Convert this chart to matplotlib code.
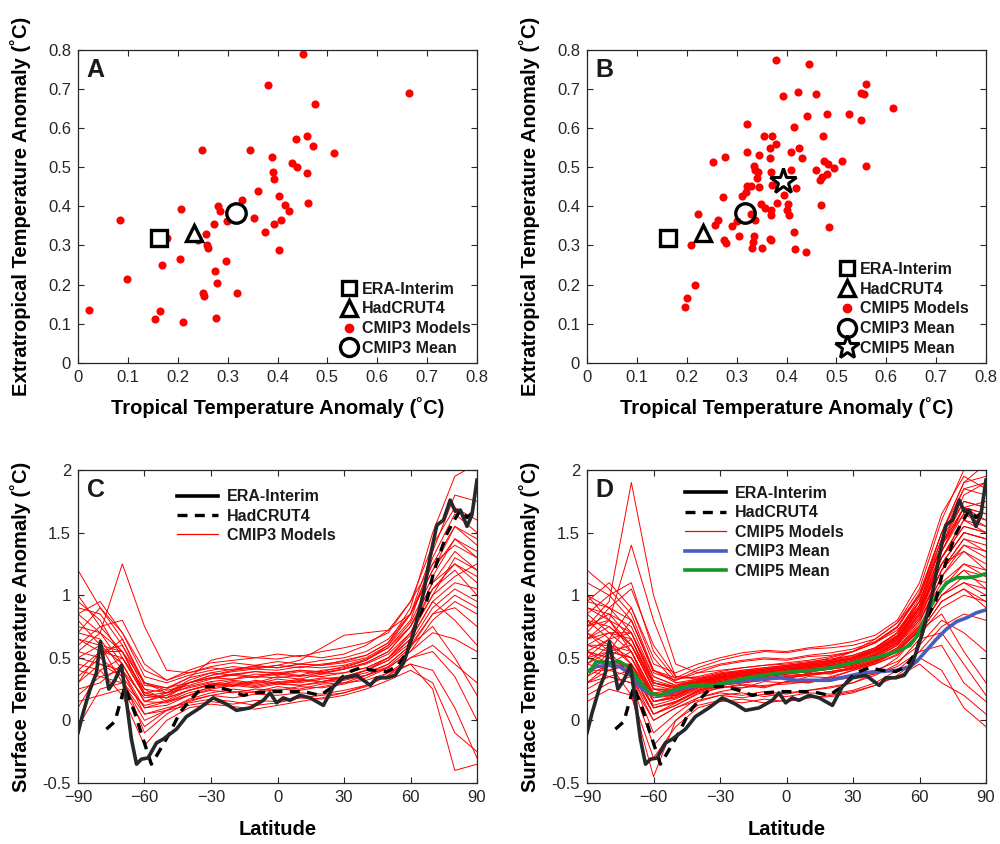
import numpy as np
import matplotlib.pyplot as plt
from matplotlib.lines import Line2D

plt.rcParams['font.family'] = ['Liberation Sans', 'DejaVu Sans']
plt.rcParams['text.color'] = '#1a1a1a'
plt.rcParams['axes.edgecolor'] = '#262626'
plt.rcParams['xtick.color'] = '#262626'
plt.rcParams['ytick.color'] = '#262626'

# ---------------- panel A / B : tropical vs extratropical anomaly ----------------
cmip3_trop = [0.452, 0.380, 0.663, 0.476, 0.438, 0.459, 0.472, 0.249, 0.344, 0.513,
              0.389, 0.430, 0.440, 0.391, 0.460, 0.392, 0.361, 0.404, 0.329, 0.461,
              0.416, 0.280, 0.207, 0.285, 0.424, 0.085, 0.353, 0.299, 0.407, 0.272,
              0.393, 0.375, 0.256, 0.179, 0.240, 0.258, 0.260, 0.404, 0.204, 0.296,
              0.168, 0.274, 0.098, 0.278, 0.250, 0.252, 0.319, 0.023, 0.165, 0.155,
              0.210, 0.276]
cmip3_extra = [0.790, 0.709, 0.689, 0.662, 0.573, 0.580, 0.555, 0.545, 0.545, 0.536,
               0.526, 0.511, 0.500, 0.489, 0.485, 0.471, 0.440, 0.426, 0.416, 0.409,
               0.403, 0.402, 0.394, 0.388, 0.387, 0.366, 0.371, 0.362, 0.364, 0.356,
               0.356, 0.335, 0.329, 0.318, 0.313, 0.300, 0.293, 0.288, 0.265, 0.260,
               0.249, 0.234, 0.215, 0.203, 0.179, 0.170, 0.179, 0.135, 0.132, 0.113,
               0.105, 0.115]

cmip5_trop = [0.379, 0.446, 0.559, 0.423, 0.392, 0.459, 0.550, 0.556, 0.614, 0.481,
              0.526, 0.442, 0.550, 0.320, 0.415, 0.354, 0.371, 0.474, 0.378, 0.366,
              0.426, 0.321, 0.409, 0.344, 0.276, 0.431, 0.366, 0.252, 0.476, 0.484,
              0.512, 0.559, 0.496, 0.334, 0.336, 0.369, 0.410, 0.460, 0.342, 0.481,
              0.340, 0.472, 0.468, 0.320, 0.344, 0.328, 0.371, 0.419, 0.318, 0.394,
              0.272, 0.311, 0.381, 0.348, 0.404, 0.469, 0.357, 0.369, 0.400, 0.222,
              0.328, 0.369, 0.405, 0.263, 0.336, 0.300, 0.256, 0.291, 0.485, 0.415,
              0.304, 0.334, 0.367, 0.275, 0.278, 0.369, 0.332, 0.209, 0.330, 0.351,
              0.418, 0.439, 0.216, 0.201, 0.197]
cmip5_extra = [0.774, 0.763, 0.712, 0.692, 0.683, 0.687, 0.689, 0.688, 0.651, 0.636,
               0.635, 0.630, 0.620, 0.611, 0.603, 0.580, 0.579, 0.579, 0.559, 0.549,
               0.549, 0.540, 0.538, 0.531, 0.526, 0.524, 0.523, 0.514, 0.517, 0.509,
               0.517, 0.502, 0.499, 0.504, 0.494, 0.489, 0.492, 0.492, 0.487, 0.483,
               0.472, 0.475, 0.468, 0.451, 0.450, 0.451, 0.454, 0.448, 0.436, 0.428,
               0.423, 0.426, 0.409, 0.405, 0.406, 0.403, 0.396, 0.391, 0.391, 0.380,
               0.380, 0.377, 0.379, 0.366, 0.365, 0.363, 0.352, 0.351, 0.347, 0.335,
               0.324, 0.324, 0.317, 0.315, 0.307, 0.314, 0.309, 0.301, 0.293, 0.294,
               0.291, 0.284, 0.199, 0.167, 0.143]

era_pt = (0.163, 0.319)
had_pt = (0.232, 0.333)
cmip3_mean_pt = (0.316, 0.384)
cmip5_mean_pt = (0.392, 0.465)

# ---------------- panel C / D : zonal-mean anomaly vs latitude ----------------
era_lat = [-90, -87.7, -84.7, -81.7, -79.9, -78.7, -76.1, -73.4, -70.4, -68.2, -65.9,
           -63.6, -61.4, -58.4, -54.6, -51.6, -45.6, -41.1, -35.0, -29.0, -23.0, -18.5,
           -12.4, -6.4, -3.4, -0.4, 2.6, 5.6, 10.2, 14.7, 20.7, 25.2, 29.7, 35.8, 41.8,
           44.8, 49.3, 53.1, 56.9, 61.4, 65.9, 68.9, 71.9, 74.9, 77.9, 80.2, 82.5, 85.5,
           87.7, 90]
era_val = [-0.10, 0.06, 0.24, 0.38, 0.63, 0.51, 0.25, 0.32, 0.44, 0.16, -0.15,
           -0.35, -0.31, -0.30, -0.18, -0.15, -0.07, 0.03, 0.10, 0.18, 0.13, 0.08,
           0.10, 0.16, 0.22, 0.14, 0.18, 0.16, 0.20, 0.18, 0.12, 0.27, 0.34, 0.36, 0.28,
           0.34, 0.34, 0.36, 0.46, 0.70, 1.02, 1.31, 1.56, 1.60, 1.76, 1.67, 1.68, 1.55,
           1.64, 1.92]

had_lat = [-77.2, -73.4, -68.9, -64.4, -60.6, -56.9, -53.8, -48.6, -44.1, -39.6, -33.5,
           -27.5, -21.5, -15.4, -9.4, -3.4, 4.1, 11.7, 19.2, 25.2, 31.2, 37.3, 43.3,
           49.3, 53.8, 58.3, 62.9, 67.4, 70.4, 73.4, 76.4, 79.4, 82.5, 85.5, 88.0]
had_val = [-0.07, -0.01, 0.27, 0.06, -0.15, -0.35, -0.26, -0.10, 0.06, 0.16, 0.27,
           0.27, 0.24, 0.20, 0.22, 0.23, 0.23, 0.23, 0.20, 0.27, 0.38, 0.42, 0.40,
           0.39, 0.43, 0.54, 0.80, 0.96, 1.18, 1.34, 1.49, 1.59, 1.68, 1.62, 1.66]

mean_lat = [-88.8, -85.8, -80.0, -75.3, -70.7, -66.2, -61.7, -57.2, -52.7, -48.2, -42.2,
            -33.1, -25.6, -18.1, -10.6, -3.0, 4.5, 12.0, 19.6, 27.1, 34.6, 42.1, 49.7,
            55.7, 58.7, 61.7, 64.7, 67.7, 72.2, 76.8, 81.3, 85.7, 89.5]
cmip5_mean = [0.39, 0.47, 0.46, 0.47, 0.42, 0.31, 0.22, 0.20, 0.23, 0.26, 0.28,
              0.28, 0.31, 0.34, 0.36, 0.38, 0.39, 0.40, 0.42, 0.45, 0.48, 0.51, 0.55,
              0.60, 0.67, 0.78, 0.90, 0.99, 1.10, 1.14, 1.14, 1.15, 1.17]
cmip3_mean = [0.40, 0.43, 0.44, 0.43, 0.37, 0.27, 0.21, 0.20, 0.22, 0.25, 0.27,
              0.28, 0.30, 0.32, 0.33, 0.34, 0.32, 0.32, 0.32, 0.35, 0.38, 0.39, 0.40,
              0.43, 0.47, 0.53, 0.59, 0.65, 0.73, 0.79, 0.82, 0.86, 0.88]

model_lat = [-90, -80, -70, -60, -50, -40, -30, -20, -10, 0, 10, 20, 30, 40, 50, 60, 70, 80, 90]

cmip3_models = [
    [0.75, 0.70, 0.55, 0.20, 0.18, 0.30, 0.34, 0.33, 0.37, 0.36, 0.39, 0.37, 0.41, 0.46, 0.55, 0.75, 1.10, 1.35, 1.20],
    [0.40, 0.55, 0.60, 0.25, 0.15, 0.20, 0.27, 0.31, 0.29, 0.33, 0.31, 0.34, 0.33, 0.40, 0.48, 0.65, 0.95, 1.10, 1.05],
    [1.20, 0.90, 0.70, 0.40, 0.32, 0.40, 0.46, 0.48, 0.50, 0.49, 0.52, 0.50, 0.53, 0.60, 0.72, 0.95, 1.40, 1.70, 1.60],
    [0.20, 0.35, 0.40, 0.05, 0.08, 0.16, 0.20, 0.18, 0.21, 0.20, 0.22, 0.21, 0.24, 0.28, 0.36, 0.50, 0.60, 0.45, 0.30],
    [0.55, 0.70, 1.25, 0.75, 0.40, 0.38, 0.42, 0.40, 0.44, 0.42, 0.45, 0.44, 0.48, 0.52, 0.62, 0.85, 1.25, 1.55, 1.40],
    [0.90, 0.85, 0.60, 0.30, 0.24, 0.28, 0.33, 0.37, 0.35, 0.38, 0.36, 0.40, 0.42, 0.48, 0.58, 0.78, 1.15, 1.45, 1.30],
    [0.30, 0.45, 0.35, 0.10, 0.12, 0.20, 0.24, 0.22, 0.25, 0.24, 0.27, 0.26, 0.29, 0.34, 0.42, 0.55, 0.80, 0.95, 0.85],
    [0.50, 0.60, 0.45, 0.15, 0.20, 0.30, 0.36, 0.40, 0.42, 0.44, 0.48, 0.58, 0.68, 0.70, 0.72, 0.85, 1.20, 1.55, 1.45],
    [0.65, 0.55, 0.50, 0.25, 0.22, 0.26, 0.30, 0.28, 0.32, 0.30, 0.33, 0.31, 0.34, 0.38, 0.45, 0.60, 0.85, 0.90, 0.75],
    [0.85, 0.95, 0.70, 0.35, 0.30, 0.36, 0.40, 0.43, 0.41, 0.44, 0.42, 0.45, 0.47, 0.52, 0.62, 0.90, 1.50, 1.95, 2.05],
    [-0.05, 0.25, 0.30, 0.00, 0.08, 0.12, 0.15, 0.13, 0.16, 0.15, 0.18, 0.17, 0.20, 0.25, 0.32, 0.40, 0.30, -0.10, -0.25],
    [0.45, 0.40, 0.50, 0.20, 0.18, 0.24, 0.29, 0.32, 0.30, 0.35, 0.33, 0.37, 0.38, 0.42, 0.50, 0.70, 1.05, 1.25, 1.10],
    [0.70, 0.65, 0.40, 0.10, 0.15, 0.22, 0.26, 0.29, 0.27, 0.30, 0.28, 0.31, 0.33, 0.36, 0.42, 0.55, 0.70, 0.65, 0.55],
    [0.35, 0.50, 0.65, 0.30, 0.22, 0.30, 0.36, 0.39, 0.41, 0.40, 0.43, 0.42, 0.44, 0.49, 0.58, 0.75, 1.05, 1.20, 1.00],
    [1.00, 0.75, 0.55, 0.22, 0.18, 0.24, 0.28, 0.30, 0.28, 0.31, 0.30, 0.33, 0.35, 0.40, 0.50, 0.68, 1.00, 1.15, 1.25],
    [0.55, 0.50, 0.35, -0.10, 0.05, 0.15, 0.20, 0.23, 0.22, 0.25, 0.24, 0.27, 0.30, 0.36, 0.45, 0.60, 0.75, 0.50, 0.20],
    [0.25, 0.30, 0.45, 0.15, 0.22, 0.32, 0.38, 0.41, 0.43, 0.42, 0.45, 0.44, 0.46, 0.50, 0.60, 0.80, 1.30, 1.65, 1.50],
    [0.80, 0.60, 0.30, 0.05, 0.10, 0.14, 0.17, 0.15, 0.12, 0.14, 0.18, 0.20, 0.22, 0.28, 0.38, 0.50, 0.55, 0.35, 0.00],
    [0.60, 0.75, 0.80, 0.45, 0.32, 0.38, 0.43, 0.46, 0.44, 0.47, 0.45, 0.48, 0.50, 0.55, 0.65, 0.85, 1.20, 1.45, 1.35],
    [0.15, 0.20, 0.25, -0.05, 0.08, 0.17, 0.22, 0.25, 0.23, 0.27, 0.25, 0.29, 0.30, 0.32, 0.38, 0.45, 0.40, 0.10, -0.30],
    [0.95, 0.80, 0.50, 0.20, 0.22, 0.30, 0.34, 0.37, 0.39, 0.38, 0.40, 0.39, 0.43, 0.48, 0.60, 0.85, 1.35, 1.80, 1.75],
    [0.40, 0.35, 0.30, 0.12, 0.16, 0.24, 0.29, 0.27, 0.31, 0.29, 0.32, 0.31, 0.35, 0.40, 0.48, 0.62, 0.90, 1.05, 0.95],
    [0.70, 0.90, 0.65, 0.28, 0.26, 0.34, 0.38, 0.36, 0.39, 0.37, 0.40, 0.38, 0.41, 0.45, 0.53, 0.70, 1.00, 1.30, 1.20],
    [0.50, 0.45, 0.40, 0.18, 0.20, 0.27, 0.31, 0.33, 0.35, 0.34, 0.36, 0.35, 0.38, 0.42, 0.50, 0.65, 0.95, 0.80, 0.60],
    [0.30, 0.55, 0.55, 0.22, 0.25, 0.34, 0.48, 0.52, 0.50, 0.53, 0.51, 0.55, 0.58, 0.62, 0.70, 0.95, 1.25, 1.40, 1.30],
    [0.85, 0.70, 0.45, 0.15, 0.14, 0.20, 0.25, 0.28, 0.26, 0.29, 0.28, 0.30, 0.32, 0.36, 0.43, 0.58, 0.85, 1.00, 0.90],
    [0.65, 0.60, 0.55, 0.30, 0.26, 0.30, 0.34, 0.36, 0.34, 0.37, 0.35, 0.38, 0.41, 0.46, 0.55, 0.75, 1.10, 1.25, 1.15],
    [0.10, 0.40, 0.20, -0.20, 0.00, 0.10, 0.13, 0.11, 0.09, 0.12, 0.15, 0.18, 0.22, 0.27, 0.36, 0.45, 0.25, -0.40, -0.35],
]

cmip5_models = [
    [0.60, 0.70, 0.65, 0.25, 0.25, 0.30, 0.33, 0.36, 0.35, 0.39, 0.38, 0.43, 0.46, 0.52, 0.62, 0.85, 1.30, 1.60, 1.50],
    [0.45, 0.55, 0.50, 0.15, 0.20, 0.27, 0.30, 0.32, 0.34, 0.33, 0.38, 0.37, 0.43, 0.48, 0.58, 0.78, 1.15, 1.35, 1.25],
    [0.90, 0.85, 0.75, 0.35, 0.28, 0.32, 0.36, 0.39, 0.38, 0.42, 0.41, 0.46, 0.50, 0.56, 0.68, 0.95, 1.45, 1.85, 1.90],
    [0.30, 0.40, 0.45, 0.10, 0.15, 0.23, 0.27, 0.26, 0.31, 0.30, 0.35, 0.34, 0.40, 0.45, 0.52, 0.68, 0.90, 1.00, 0.95],
    [0.75, 0.95, 1.90, 1.00, 0.45, 0.38, 0.40, 0.42, 0.44, 0.45, 0.47, 0.49, 0.52, 0.58, 0.70, 0.95, 1.40, 1.70, 1.60],
    [1.10, 1.00, 0.80, 0.40, 0.34, 0.42, 0.48, 0.52, 0.55, 0.54, 0.57, 0.58, 0.60, 0.65, 0.78, 1.05, 1.60, 2.00, 2.10],
    [0.55, 0.50, 0.40, 0.05, 0.12, 0.22, 0.26, 0.28, 0.26, 0.31, 0.30, 0.34, 0.36, 0.40, 0.47, 0.60, 0.80, 0.70, 0.55],
    [0.65, 0.80, 1.40, 0.80, 0.35, 0.33, 0.37, 0.39, 0.41, 0.43, 0.45, 0.47, 0.50, 0.55, 0.65, 0.88, 1.25, 1.50, 1.45],
    [0.40, 0.35, 0.30, 0.00, 0.10, 0.16, 0.20, 0.18, 0.21, 0.19, 0.22, 0.21, 0.24, 0.30, 0.40, 0.55, 0.60, 0.30, 0.15],
    [0.80, 0.75, 0.60, 0.30, 0.26, 0.31, 0.35, 0.37, 0.39, 0.41, 0.43, 0.45, 0.48, 0.54, 0.65, 0.90, 1.35, 1.70, 1.75],
    [0.20, 0.30, 0.35, -0.10, 0.05, 0.18, 0.23, 0.26, 0.28, 0.29, 0.31, 0.32, 0.34, 0.37, 0.43, 0.55, 0.75, 0.85, 0.80],
    [1.00, 0.90, 0.70, 0.30, 0.27, 0.32, 0.36, 0.39, 0.41, 0.43, 0.45, 0.47, 0.50, 0.57, 0.70, 0.98, 1.50, 1.90, 2.05],
    [0.50, 0.65, 0.90, 0.50, 0.30, 0.30, 0.34, 0.36, 0.38, 0.40, 0.42, 0.44, 0.47, 0.52, 0.62, 0.82, 1.20, 1.40, 1.30],
    [0.35, 0.45, 0.55, 0.20, 0.22, 0.28, 0.31, 0.33, 0.35, 0.37, 0.39, 0.41, 0.44, 0.50, 0.60, 0.80, 1.10, 1.25, 1.15],
    [0.70, 0.60, 0.45, 0.10, 0.15, 0.24, 0.28, 0.30, 0.32, 0.34, 0.36, 0.38, 0.41, 0.46, 0.55, 0.72, 1.00, 1.10, 1.00],
    [0.95, 1.10, 0.90, 0.45, 0.38, 0.45, 0.50, 0.54, 0.56, 0.55, 0.58, 0.60, 0.63, 0.68, 0.80, 1.10, 1.65, 1.95, 1.85],
    [0.25, 0.35, 0.30, -0.20, 0.00, 0.12, 0.16, 0.14, 0.17, 0.15, 0.18, 0.19, 0.22, 0.28, 0.36, 0.50, 0.40, 0.10, -0.05],
    [0.60, 0.55, 0.50, 0.20, 0.21, 0.28, 0.32, 0.34, 0.36, 0.38, 0.40, 0.42, 0.45, 0.51, 0.61, 0.82, 1.20, 1.45, 1.40],
    [0.85, 0.70, 0.55, 0.15, 0.18, 0.26, 0.30, 0.33, 0.35, 0.37, 0.39, 0.41, 0.44, 0.49, 0.58, 0.76, 1.05, 1.20, 1.05],
    [0.40, 0.50, 0.65, 0.30, 0.25, 0.30, 0.34, 0.37, 0.39, 0.41, 0.43, 0.46, 0.50, 0.58, 0.70, 0.92, 1.30, 1.55, 1.50],
    [0.65, 0.75, 0.60, 0.25, 0.23, 0.29, 0.33, 0.35, 0.37, 0.39, 0.41, 0.43, 0.46, 0.52, 0.63, 0.85, 1.25, 1.50, 1.45],
    [1.20, 1.05, 0.85, 0.40, 0.32, 0.38, 0.44, 0.47, 0.49, 0.48, 0.51, 0.52, 0.55, 0.62, 0.74, 1.00, 1.45, 1.75, 1.70],
    [0.15, 0.25, 0.20, -0.30, -0.05, 0.10, 0.15, 0.17, 0.14, 0.16, 0.18, 0.20, 0.23, 0.28, 0.35, 0.45, 0.30, 0.20, 0.05],
    [0.55, 0.65, 0.70, 0.35, 0.28, 0.33, 0.37, 0.40, 0.42, 0.44, 0.46, 0.48, 0.52, 0.58, 0.70, 0.95, 1.40, 1.65, 1.55],
    [0.75, 0.85, 0.65, 0.28, 0.24, 0.30, 0.34, 0.36, 0.38, 0.40, 0.42, 0.44, 0.47, 0.53, 0.64, 0.88, 1.30, 1.60, 1.55],
    [0.45, 0.40, 0.35, 0.05, 0.12, 0.21, 0.26, 0.29, 0.27, 0.31, 0.30, 0.35, 0.40, 0.45, 0.53, 0.70, 0.95, 1.05, 0.90],
    [0.90, 0.80, 0.70, 0.32, 0.27, 0.31, 0.35, 0.38, 0.40, 0.42, 0.44, 0.46, 0.49, 0.55, 0.67, 0.92, 1.35, 1.65, 1.60],
    [0.30, 0.45, 0.40, 0.12, 0.17, 0.25, 0.29, 0.31, 0.33, 0.35, 0.37, 0.39, 0.42, 0.47, 0.55, 0.72, 1.00, 1.15, 1.10],
    [0.70, 0.90, 1.05, 0.60, 0.35, 0.34, 0.38, 0.40, 0.42, 0.44, 0.46, 0.48, 0.51, 0.57, 0.68, 0.90, 1.25, 1.35, 1.20],
    [0.50, 0.45, 0.45, 0.15, 0.19, 0.27, 0.31, 0.33, 0.35, 0.37, 0.39, 0.41, 0.43, 0.48, 0.57, 0.75, 1.05, 1.20, 1.15],
    [0.55, 0.45, 0.20, -0.45, 0.00, 0.15, 0.20, 0.22, 0.19, 0.22, 0.24, 0.26, 0.30, 0.38, 0.50, 0.70, 0.95, 1.05, 0.95],
    [0.80, 0.65, 0.45, 0.20, 0.22, 0.30, 0.35, 0.38, 0.40, 0.43, 0.46, 0.50, 0.55, 0.62, 0.72, 0.95, 1.40, 1.80, 1.90],
    [0.35, 0.55, 0.80, 0.40, 0.30, 0.33, 0.37, 0.39, 0.41, 0.43, 0.45, 0.47, 0.50, 0.56, 0.66, 0.88, 1.30, 1.55, 1.50],
    [0.60, 0.60, 0.55, 0.22, 0.24, 0.31, 0.35, 0.37, 0.39, 0.41, 0.43, 0.45, 0.48, 0.55, 0.66, 0.90, 1.35, 1.70, 1.65],
    [1.00, 0.80, 0.60, 0.25, 0.20, 0.27, 0.31, 0.34, 0.36, 0.38, 0.40, 0.42, 0.45, 0.50, 0.60, 0.80, 1.15, 1.40, 1.35],
    [0.45, 0.60, 0.50, 0.18, 0.20, 0.28, 0.32, 0.35, 0.37, 0.39, 0.41, 0.43, 0.46, 0.52, 0.62, 0.84, 1.20, 1.45, 1.35],
    [0.70, 0.55, 0.35, 0.00, 0.10, 0.18, 0.22, 0.20, 0.23, 0.21, 0.24, 0.27, 0.30, 0.36, 0.45, 0.65, 0.70, 0.45, 0.20],
    [0.85, 1.00, 1.10, 0.55, 0.33, 0.35, 0.39, 0.42, 0.44, 0.46, 0.48, 0.51, 0.55, 0.62, 0.75, 1.02, 1.50, 1.85, 1.80],
    [0.40, 0.40, 0.45, 0.15, 0.18, 0.26, 0.30, 0.32, 0.34, 0.36, 0.37, 0.39, 0.42, 0.47, 0.56, 0.74, 1.05, 1.25, 1.20],
    [0.65, 0.70, 0.70, 0.30, 0.26, 0.31, 0.35, 0.38, 0.40, 0.42, 0.44, 0.46, 0.49, 0.55, 0.67, 0.92, 1.40, 1.75, 1.70],
    [0.55, 0.50, 0.40, 0.10, 0.14, 0.23, 0.28, 0.30, 0.32, 0.34, 0.36, 0.38, 0.41, 0.46, 0.55, 0.72, 0.85, 0.55, 0.30],
    [0.95, 0.90, 0.80, 0.38, 0.32, 0.40, 0.45, 0.48, 0.50, 0.49, 0.52, 0.54, 0.57, 0.63, 0.75, 1.00, 1.50, 1.90, 1.95],
    [0.30, 0.35, 0.40, 0.05, 0.14, 0.24, 0.29, 0.31, 0.33, 0.35, 0.37, 0.39, 0.42, 0.47, 0.56, 0.73, 1.00, 1.10, 1.05],
    [0.75, 0.80, 0.55, 0.20, 0.20, 0.28, 0.33, 0.36, 0.38, 0.41, 0.44, 0.48, 0.55, 0.65, 0.78, 1.00, 1.40, 1.70, 1.65],
    [0.50, 0.55, 0.60, 0.25, 0.24, 0.30, 0.34, 0.36, 0.38, 0.40, 0.42, 0.44, 0.47, 0.53, 0.64, 0.86, 1.25, 1.50, 1.45],
]

RED = '#ff0000'
ERA_C = '#26292c'
BLUE = '#4a5cc0'
GREEN = '#17952b'

fig = plt.figure(figsize=(10, 8.44), dpi=100)
axA = fig.add_axes([0.078, 0.570, 0.399, 0.371])
axB = fig.add_axes([0.587, 0.570, 0.399, 0.371])
axC = fig.add_axes([0.078, 0.0723, 0.399, 0.3708])
axD = fig.add_axes([0.587, 0.0723, 0.399, 0.3708])

LBL = dict(fontsize=14.5, fontweight='bold')


def style(ax):
    ax.tick_params(direction='in', top=True, right=True, length=4, width=0.8,
                   labelsize=12, pad=5)
    for s in ax.spines.values():
        s.set_linewidth(0.9)


# scatter panels
for ax, trop, extra, lab, letter in [(axA, cmip3_trop, cmip3_extra, 'CMIP3 Models', 'A'),
                                     (axB, cmip5_trop, cmip5_extra, 'CMIP5 Models', 'B')]:
    ax.scatter(trop, extra, s=34, color=RED, zorder=2, linewidths=0)
    ax.plot(*era_pt, 's', ms=11, mfc='white', mec='black', mew=2.4, zorder=3)
    ax.plot(*had_pt, '^', ms=12, mfc='white', mec='black', mew=2.4, zorder=3)
    ax.plot(*cmip3_mean_pt, 'o', ms=14, mfc='none', mec='black', mew=2.4, zorder=3)
    handles = [Line2D([], [], ls='none', marker='s', ms=10, mfc='white', mec='black', mew=2.4),
               Line2D([], [], ls='none', marker='^', ms=11, mfc='white', mec='black', mew=2.4),
               Line2D([], [], ls='none', marker='o', ms=6, mfc=RED, mec=RED),
               Line2D([], [], ls='none', marker='o', ms=13, mfc='white', mec='black', mew=2.4)]
    labels = ['ERA-Interim', 'HadCRUT4', lab, 'CMIP3 Mean']
    if letter == 'B':
        ax.plot(*cmip5_mean_pt, '*', ms=19, mfc='white', mec='black', mew=2.2, zorder=3)
        handles.append(Line2D([], [], ls='none', marker='*', ms=18, mfc='white', mec='black', mew=2.2))
        labels.append('CMIP5 Mean')
        anchor = (0.628, 0.323)
    else:
        anchor = (0.655, 0.26)
    ax.legend(handles, labels, loc='upper left', bbox_to_anchor=anchor, frameon=False,
              borderpad=0, borderaxespad=0, handlelength=1.2, handletextpad=0.2,
              labelspacing=0.3, prop=dict(size=11.5, weight='bold'))
    ax.set_xlim(0, 0.8)
    ax.set_ylim(0, 0.8)
    ax.set_xticks([0, 0.1, 0.2, 0.3, 0.4, 0.5, 0.6, 0.7, 0.8])
    ax.set_xticklabels(['0', '0.1', '0.2', '0.3', '0.4', '0.5', '0.6', '0.7', '0.8'])
    ax.set_yticks([0, 0.1, 0.2, 0.3, 0.4, 0.5, 0.6, 0.7, 0.8])
    ax.set_yticklabels(['0', '0.1', '0.2', '0.3', '0.4', '0.5', '0.6', '0.7', '0.8'])
    ax.set_xlabel('Tropical Temperature Anomaly (˚C)', labelpad=9, **LBL)
    ax.set_ylabel('Extratropical Temperature Anomaly (˚C)', labelpad=12, **LBL)
    ax.text(0.022, 0.975, letter, transform=ax.transAxes, ha='left', va='top',
            fontsize=18, fontweight='bold')
    style(ax)

# latitude panels
for ax, models, letter in [(axC, cmip3_models, 'C'), (axD, cmip5_models, 'D')]:
    for m in models:
        ax.plot(model_lat, m, color=RED, lw=0.7, zorder=1)
    if letter == 'D':
        ax.plot(mean_lat, cmip3_mean, color=BLUE, lw=2.6, zorder=3)
        ax.plot(mean_lat, cmip5_mean, color=GREEN, lw=2.6, zorder=3)
    ax.plot(had_lat, had_val, color='black', lw=2.4, ls=(0, (3, 2.2)), zorder=4)
    ax.plot(era_lat, era_val, color=ERA_C, lw=2.6, zorder=5)

    handles = [Line2D([], [], color='black', lw=2.6),
               Line2D([], [], color='black', lw=2.4, ls=(0, (3, 2.2))),
               Line2D([], [], color=RED, lw=0.9)]
    labels = ['ERA-Interim', 'HadCRUT4', 'CMIP3 Models' if letter == 'C' else 'CMIP5 Models']
    if letter == 'D':
        handles += [Line2D([], [], color=BLUE, lw=2.6), Line2D([], [], color=GREEN, lw=2.6)]
        labels += ['CMIP3 Mean', 'CMIP5 Mean']
        anchor = (0.245, 0.949)
    else:
        anchor = (0.248, 0.939)
    ax.legend(handles, labels, loc='upper left', bbox_to_anchor=anchor, frameon=False,
              borderpad=0, borderaxespad=0, handlelength=2.6, handletextpad=0.55,
              labelspacing=0.28, prop=dict(size=11.5, weight='bold'))

    ax.set_xlim(-90, 90)
    ax.set_ylim(-0.5, 2)
    ax.set_xticks([-90, -60, -30, 0, 30, 60, 90])
    ax.set_yticks([-0.5, 0, 0.5, 1, 1.5, 2])
    ax.set_yticklabels(['-0.5', '0', '0.5', '1', '1.5', '2'])
    ax.set_xlabel('Latitude', labelpad=11, **LBL)
    ax.set_ylabel('Surface Temperature Anomaly (˚C)', labelpad=8, **LBL)
    ax.text(0.022, 0.975, letter, transform=ax.transAxes, ha='left', va='top',
            fontsize=18, fontweight='bold', zorder=6)
    style(ax)

fig.savefig('out.png', dpi=100)
